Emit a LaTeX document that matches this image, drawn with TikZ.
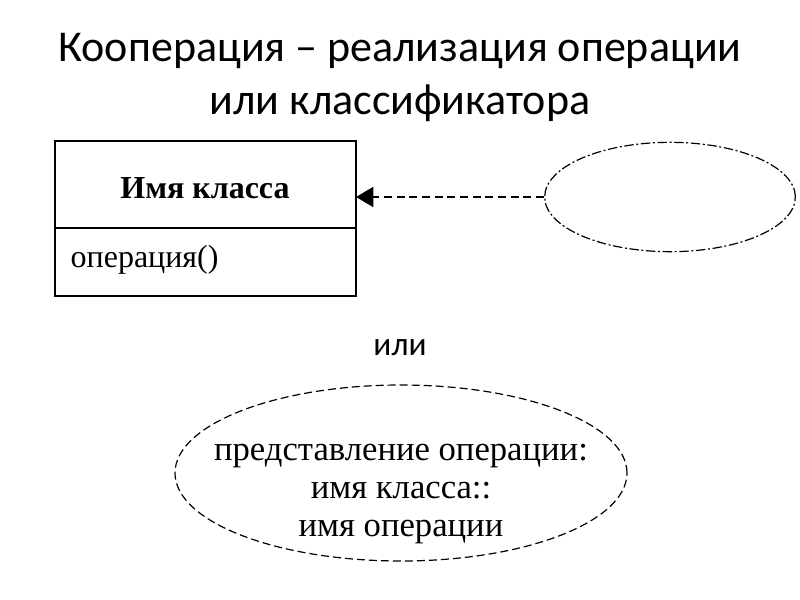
\documentclass[tikz,border=0pt]{standalone}
\usepackage{fontspec}
\setmainfont{Liberation Serif}
\newfontfamily\titlefont{Carlito}
\usetikzlibrary{shapes.geometric,arrows.meta}
\tikzset{
  class box/.style={draw, line width=0.9pt},
  use case/.style={draw, ellipse, line width=0.9pt},
  realizes/.style={-{Triangle[length=13pt,width=15pt]}, dashed, line width=1.6pt,
    dash pattern=on 6pt off 3.5pt},
}

\begin{document}
\begin{tikzpicture}[x=0.75pt, y=-0.75pt]
  \useasboundingbox (0,0) rectangle (800,600);

  % title
  \node (title1) at (400,51) {\titlefont\fontsize{33}{38}\selectfont Кооперация – реализация операции};
  \node (title2) at (400,103) {\titlefont\fontsize{33}{38}\selectfont или классификатора};

  % class with its operation
  \draw[class box] (55,141) rectangle (356,296);
  \draw[class box, line width=1.6pt] (55,228) -- (356,228);
  \node (classname) at (205,188) {\fontsize{24}{28}\selectfont\bfseries Имя класса};
  \node[anchor=west] (oper) at (66,260) {\fontsize{24}{28}\selectfont операция()};
  \coordinate (classport) at (356,197);

  % collaboration
  \node[use case, dash pattern=on 7pt off 2pt on 1.5pt off 2pt,
        minimum width=188pt, minimum height=82pt] (collab) at (670,197) {};
  \draw[realizes] (collab.west) -- (classport);

  \node (or) at (400,348) {\titlefont\fontsize{25}{30}\selectfont или};

  % operation collaboration
  \node[use case, dashed, dash pattern=on 6pt off 3pt,
        minimum width=339pt, minimum height=132pt] (opcollab) at (401,473) {};
  \node[align=center, font=\fontsize{26}{28.5}\selectfont] (optext) at (401,494)
    {представление операции:\\имя класса::\\имя операции};
\end{tikzpicture}
\end{document}
